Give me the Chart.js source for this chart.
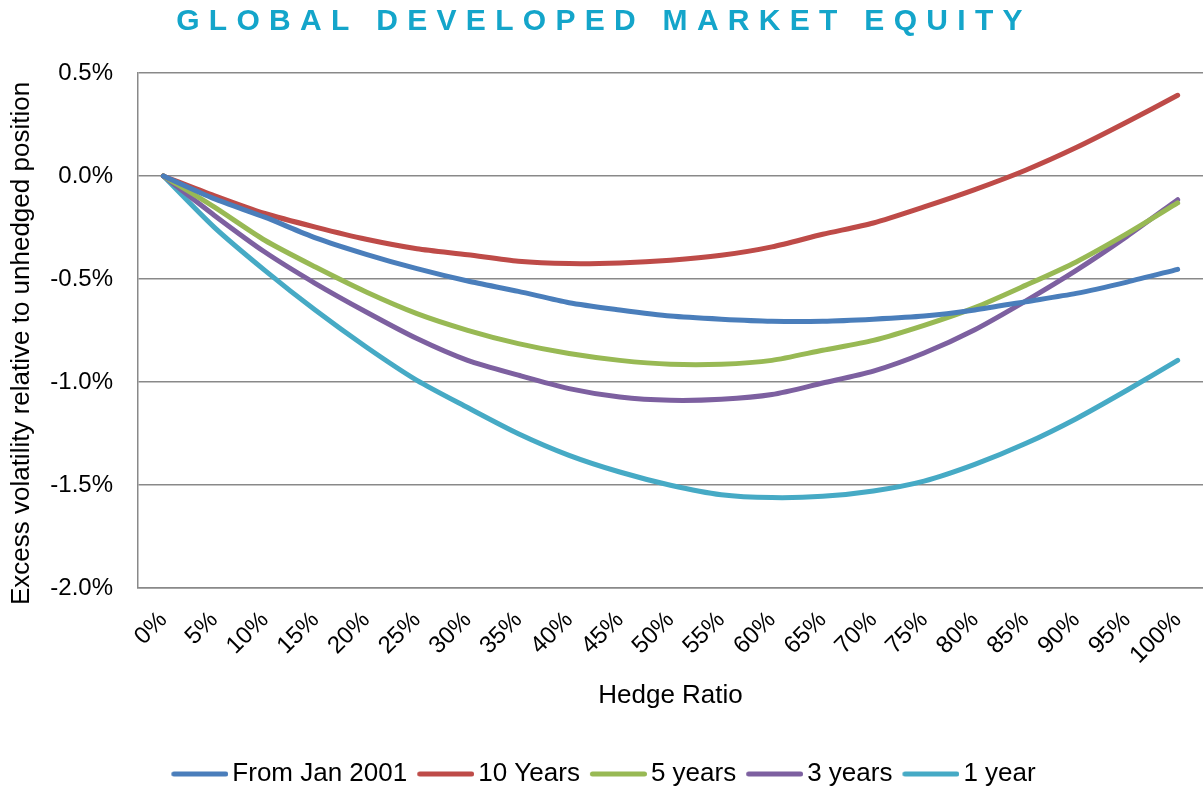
<!DOCTYPE html>
<html>
<head>
<meta charset="utf-8">
<script src="https://cdn.jsdelivr.net/npm/chart.js@4/dist/chart.umd.min.js"></script>
<style>
  html, body { margin: 0; padding: 0; background: #ffffff; }
  #wrap { width: 1203px; height: 787px; overflow: hidden; }
</style>
</head>
<body>
<div id="wrap"><canvas id="c" width="1203" height="787"></canvas></div>
<script>
const hedgeRatios = ['0%','5%','10%','15%','20%','25%','30%','35%','40%','45%','50%','55%','60%','65%','70%','75%','80%','85%','90%','95%','100%'];
const fromJan2001 = [0, -0.11, -0.20, -0.30, -0.38, -0.45, -0.51, -0.56, -0.615, -0.65, -0.68, -0.695, -0.705, -0.705, -0.695, -0.68, -0.65, -0.61, -0.57, -0.515, -0.453];
const tenYears    = [0, -0.095, -0.182, -0.248, -0.307, -0.353, -0.382, -0.414, -0.425, -0.422, -0.409, -0.385, -0.344, -0.283, -0.228, -0.150, -0.066, 0.028, 0.138, 0.262, 0.392];
const fiveYears   = [0, -0.15, -0.312, -0.442, -0.563, -0.668, -0.749, -0.814, -0.862, -0.895, -0.914, -0.914, -0.895, -0.846, -0.798, -0.725, -0.639, -0.531, -0.417, -0.280, -0.131];
const threeYears  = [0, -0.19, -0.369, -0.522, -0.660, -0.789, -0.895, -0.967, -1.032, -1.073, -1.089, -1.084, -1.061, -1.005, -0.947, -0.859, -0.746, -0.607, -0.458, -0.293, -0.115];
const oneYear     = [0, -0.248, -0.458, -0.652, -0.830, -0.992, -1.124, -1.251, -1.356, -1.437, -1.501, -1.547, -1.561, -1.555, -1.529, -1.481, -1.400, -1.299, -1.178, -1.040, -0.895];
const seriesNames = ['From Jan 2001', '10 Years', '5 years', '3 years', '1 year'];
const seriesColors = ['#4A7EBB', '#BE4B48', '#98B954', '#7D60A0', '#46AAC5'];
const yTickMin = -2.0, yTickMax = 0.5, yTickStep = 0.5;

const FONT = "'Liberation Sans', Arial, sans-serif";
const GRID = '#898989';

// legend marker: a short thick line, drawn as a small canvas image
function legendMarker(color) {
  const c = document.createElement('canvas');
  c.width = 68; c.height = 8;
  const g = c.getContext('2d');
  g.strokeStyle = color; g.lineWidth = 5; g.lineCap = 'round';
  g.beginPath(); g.moveTo(13.5, 4); g.lineTo(65.5, 4); g.stroke();
  return c;
}

const drawTweaks = {
  id: 'drawTweaks',
  beforeDraw(chart) {
    const tb = chart.titleBlock;
    if (tb && !tb._spaced) {
      const orig = tb.draw;
      tb.draw = function (...args) {
        const ctx = this.ctx;
        ctx.save();
        ctx.letterSpacing = '9.3px';
        ctx.translate(1.5, 0);
        orig.apply(this, args);
        ctx.restore();
      };
      tb._spaced = true;
    }
    const ys = chart.scales.y;
    if (ys && !ys._shifted) {
      const origT = ys.drawTitle;
      ys.drawTitle = function (...args) {
        const ctx = this.ctx;
        ctx.save();
        ctx.translate(0, 13);
        origT.apply(this, args);
        ctx.restore();
      };
      ys._shifted = true;
    }
  }
};

const allSeries = [fromJan2001, tenYears, fiveYears, threeYears, oneYear];
const datasets = allSeries.map((d, i) => ({
  label: seriesNames[i],
  data: d,
  borderColor: seriesColors[i],
  backgroundColor: seriesColors[i],
  borderWidth: 5,
  borderCapStyle: 'round',
  borderJoinStyle: 'round',
  pointRadius: 0,
  pointHoverRadius: 0,
  pointStyle: legendMarker(seriesColors[i]),
  tension: 0.25,
  fill: false
}));

new Chart(document.getElementById('c'), {
  type: 'line',
  data: { labels: hedgeRatios, datasets },
  plugins: [drawTweaks],
  options: {
    responsive: false,
    animation: false,
    events: [],
    layout: { padding: { left: 0, right: -2, top: 0, bottom: -10 } },
    plugins: {
      title: {
        display: true,
        text: 'GLOBAL DEVELOPED MARKET EQUITY',
        color: '#14A5CA',
        font: { family: FONT, size: 30, weight: 'bold' },
        padding: { top: 3.5, bottom: 33.5 }
      },
      legend: {
        position: 'bottom',
        labels: {
          usePointStyle: true,
          pointStyleWidth: 50,
          color: '#000',
          font: { family: FONT, size: 26 },
          padding: 8
        }
      },
      tooltip: { enabled: false }
    },
    scales: {
      x: {
        offset: true,
        grid: { display: false, drawTicks: false },
        border: { display: true, color: GRID, width: 1.5 },
        ticks: {
          color: '#000',
          font: { family: FONT, size: 24 },
          minRotation: 45,
          maxRotation: 45,
          autoSkip: false,
          padding: 18
        },
        title: {
          display: true,
          text: 'Hedge Ratio',
          color: '#000',
          font: { family: FONT, size: 26 },
          padding: { top: 0, bottom: 41.4 }
        },
        afterFit(scale) {
          scale.height = 165;
          scale.paddingRight = 0;
          scale.paddingLeft = 0;
        }
      },
      y: {
        min: yTickMin,
        max: yTickMax,
        grid: { color: GRID, lineWidth: 1.5, drawTicks: false },
        border: { display: true, color: GRID, width: 1.5 },
        ticks: {
          stepSize: yTickStep,
          color: '#000',
          font: { family: FONT, size: 24 },
          padding: 25,
          callback: (v) => v.toFixed(1) + '%'
        },
        title: {
          display: true,
          text: 'Excess volatility relative to unhedged position',
          color: '#000',
          font: { family: FONT, size: 26 },
          padding: { top: 6.4, bottom: 0 }
        },
        afterFit(scale) { scale.width = 138; }
      }
    }
  }
});
</script>
</body>
</html>
